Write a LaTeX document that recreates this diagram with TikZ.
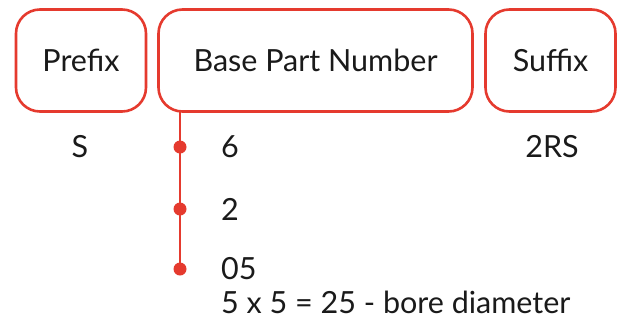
\documentclass[tikz,border=0pt]{standalone}
\usepackage{fontspec}
\setmainfont{Lato}
\definecolor{bred}{HTML}{E53A2E}
\definecolor{ink}{HTML}{1A1A1A}
\begin{document}
\begin{tikzpicture}[x=1pt,y=-1pt,
  box/.style={draw=bred,line width=2.6pt,rounded corners=24pt,minimum height=102pt,inner sep=0pt,text=ink,font=\fontsize{30.5}{36}\selectfont},
  lbl/.style={text=ink,inner sep=0pt,font=\fontsize{30.5}{36}\selectfont},
  dot/.style={circle,fill=bred,inner sep=0pt,minimum size=13pt},
  conn/.style={draw=bred,line width=2.6pt}]
\useasboundingbox (0,0) rectangle (621,322);
\node[box,minimum width=130pt] (prefix) at (81,60.5) {Prefix};
\node[box,minimum width=314pt] (base) at (315.5,60.5) {Base Part Number};
\node[box,minimum width=130pt] (suffix) at (550.5,60.5) {Suffix};
\coordinate (top) at (180,112);
\node[dot] (d1) at (180,147) {};
\node[dot] (d2) at (180,209) {};
\node[dot] (d3) at (180,269) {};
\draw[conn] (top) -- (d1.center) -- (d2.center) -- (d3.center);
\node[lbl] (s) at (80,147) {S};
\node[lbl] (rs) at (552,147) {2RS};
\node[lbl,anchor=west] (n6) at (221,147) {6};
\node[lbl,anchor=west] (n2) at (221,209) {2};
\node[lbl,anchor=west] (n05) at (221,269) {05};
\node[lbl,anchor=west] (bore) at (221,302) {5 x 5 = 25 - bore diameter};
\end{tikzpicture}
\end{document}
